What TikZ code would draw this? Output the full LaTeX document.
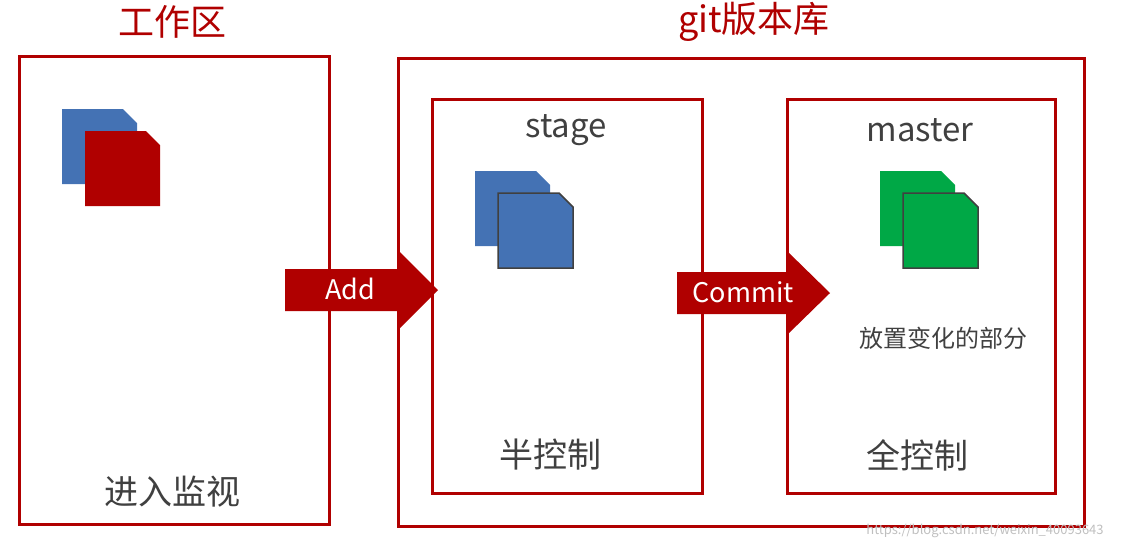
\documentclass[tikz,border=0pt]{standalone}
\usepackage{fontspec}
\setmainfont{Noto Sans CJK SC}
\definecolor{dred}{HTML}{B00000}
\definecolor{dblue}{HTML}{4472B4}
\definecolor{dgreen}{HTML}{00A846}
\definecolor{tgray}{HTML}{404040}
\begin{document}
\begin{tikzpicture}[x=1pt,y=-1pt,
  frame/.style={draw=dred,line width=3pt},
  lbl/.style={text=tgray,inner sep=0pt},
  ttl/.style={text=dred,inner sep=0pt,font=\fontsize{36}{38}\selectfont},
  arr/.style={fill=dred},
  doc/.style={line join=miter}]
\useasboundingbox (0,0) rectangle (1121,550);
\newcommand{\docshape}[3]{% x,y, style
  \path[#3] (#1,#2) -- ++(61,0) -- ++(14,14) -- ++(0,61) -- ++(-75,0) -- cycle;}
% frames
\node[frame,minimum width=310,minimum height=468,anchor=north west,inner sep=0] (work) at (18,55) {};
\node[frame,minimum width=686,minimum height=468,anchor=north west,inner sep=0] (repo) at (397,57) {};
\node[frame,minimum width=270,minimum height=394,anchor=north west,inner sep=0] (stage) at (431,98) {};
\node[frame,minimum width=268,minimum height=394,anchor=north west,inner sep=0] (master) at (786,98) {};
% titles
\node[ttl] (t1) at (172,22) {工作区};
\node[ttl] (t2) at (754,22) {git版本库};
\node[lbl,font=\fontsize{33}{35}\selectfont] (s) at (566,130) {stage};
\node[lbl,font=\fontsize{33}{35}\selectfont] (m) at (920,130) {master};
\node[lbl,font=\fontsize{34}{36}\selectfont] (b1) at (550,455) {半控制};
\node[lbl,font=\fontsize{34}{36}\selectfont] (b2) at (917,455) {全控制};
\node[lbl,font=\fontsize{34}{36}\selectfont] (b3) at (172,492) {进入监视};
\node[lbl,font=\fontsize{24}{26}\selectfont] (b4) at (943,338) {放置变化的部分};
% icons
\docshape{62}{109}{fill=dblue}
\docshape{85}{131}{fill=dred}
\docshape{475}{171}{fill=dblue}
\docshape{498}{193}{fill=dblue,draw=black!75,line width=1.5pt}
\docshape{880}{171}{fill=dgreen}
\docshape{903}{193}{fill=dgreen,draw=black!75,line width=1.5pt}
% arrows
\fill[arr] (285,269) -- (398,269) -- (398,250) -- (438,290) -- (398,330) -- (398,311) -- (285,311) -- cycle;
\node[text=white,font=\fontsize{27}{29}\selectfont,inner sep=0] (add) at (350,289) {Add};
\fill[arr] (677,272) -- (787,272) -- (787,251) -- (830,293) -- (787,335) -- (787,314) -- (677,314) -- cycle;
\node[text=white,font=\fontsize{27}{29}\selectfont,inner sep=0] (com) at (743,292) {Commit};
\node[text=black!25,font=\fontsize{13}{14}\selectfont,inner sep=0] (wm) at (985,531) {https://blog.csdn.net/weixin\_40093643};
\end{tikzpicture}
\end{document}
